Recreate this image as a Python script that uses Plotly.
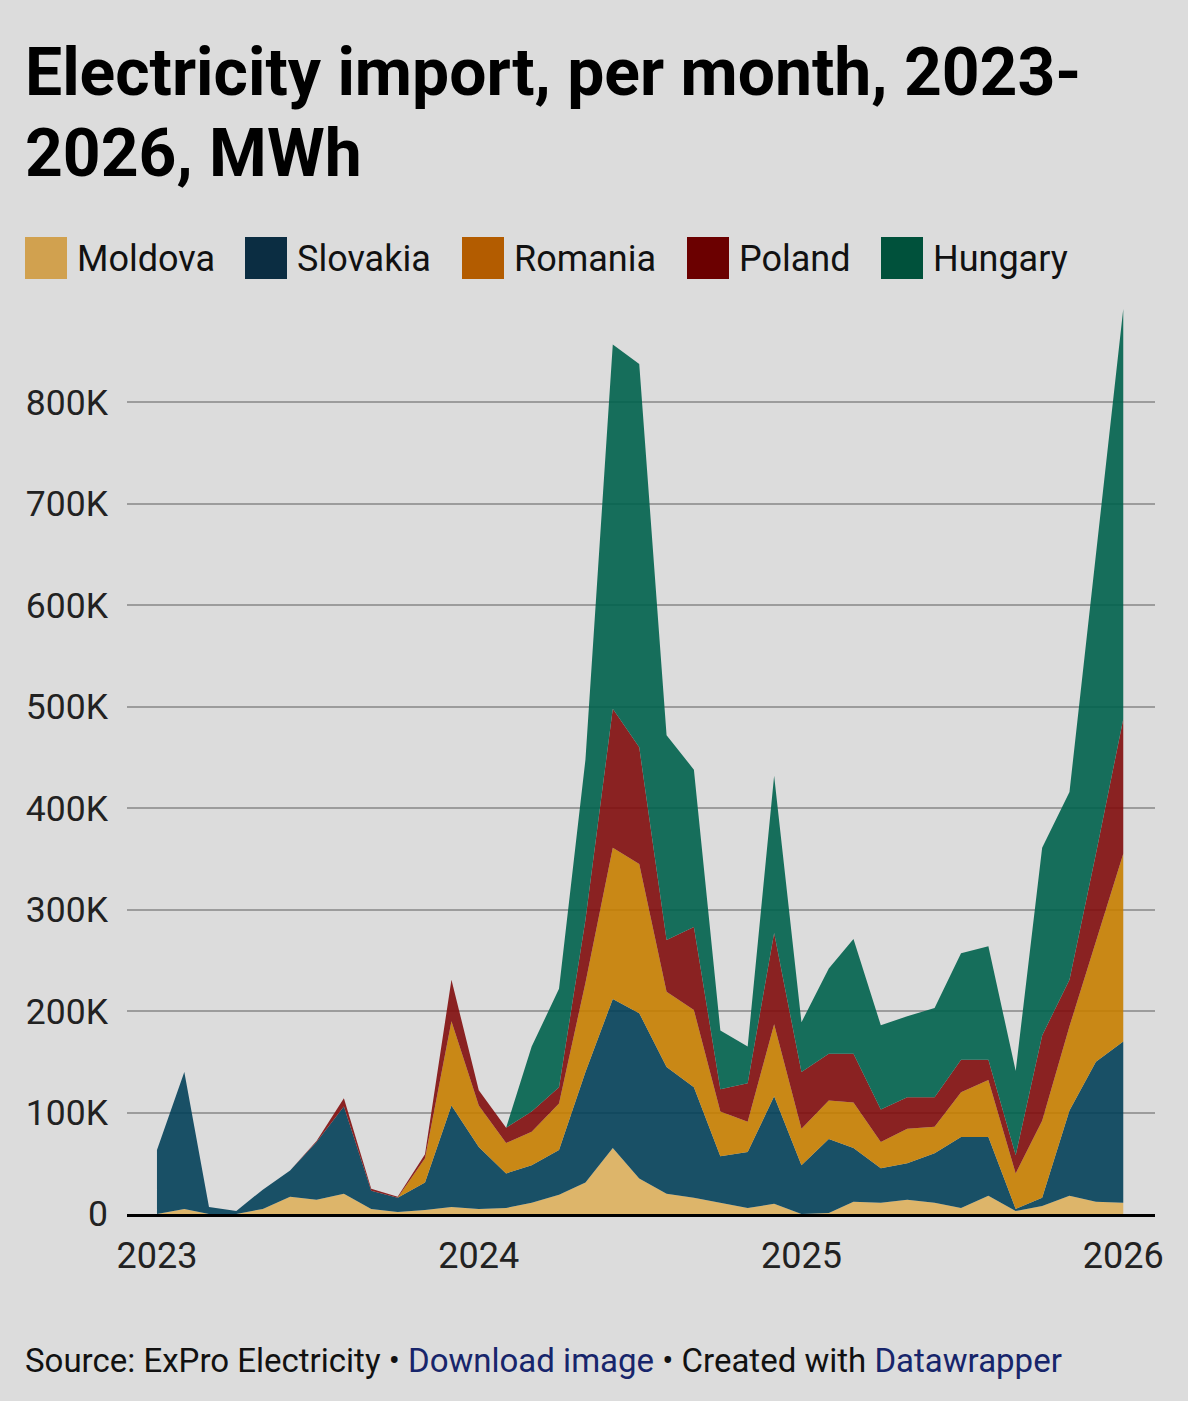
import pandas as pd
import plotly.graph_objects as go

# monthly values, thousand MWh, Jan 2023 .. Jan 2026
months = pd.date_range("2023-01-01", periods=37, freq="MS")
moldova = [0, 5, 0, 0, 5, 17, 14, 20, 5, 2, 4, 7, 5,
           6, 11, 19, 31, 65, 35, 20, 16, 11, 6, 10, 0,
           1, 12, 11, 14, 11, 6, 18, 3, 8, 18, 12, 11]
slovakia = [63, 135, 7, 3, 19, 26, 57, 86, 18, 14, 27, 100, 61,
            34, 37, 44, 109, 147, 163, 125, 109, 46, 55, 106, 48,
            73, 53, 34, 36, 49, 70, 58, 2, 8, 84, 138, 159]
romania = [0, 0, 0, 0, 0, 0, 0, 0, 0, 0, 24, 83, 41,
           30, 33, 46, 88, 149, 147, 74, 76, 44, 30, 71, 36,
           38, 45, 26, 34, 26, 44, 56, 35, 76, 83, 118, 185]
poland = [0, 0, 0, 0, 0, 0, 1, 8, 2, 1, 4, 41, 15,
          15, 20, 16, 62, 137, 115, 51, 82, 22, 38, 90, 56,
          46, 48, 32, 31, 29, 32, 20, 18, 84, 46, 87, 133]
hungary = [0, 0, 0, 0, 0, 0, 0, 0, 0, 0, 0, 0, 0,
           0, 64, 97, 158, 359, 378, 202, 155, 58, 36, 155, 49,
           84, 113, 83, 80, 88, 105, 112, 83, 185, 185, 297, 404]

names = ["Moldova", "Slovakia", "Romania", "Poland", "Hungary"]
series = [moldova, slovakia, romania, poland, hungary]
area_colors = ["rgba(221,176,93,0.9)", "rgba(3,64,89,0.9)", "rgba(198,126,0,0.9)",
               "rgba(129,13,13,0.9)", "rgba(0,98,76,0.9)"]
swatch_colors = ["#d1a14f", "#0b2d42", "#b35c00", "#6b0000", "#00513b"]

y_ticks = [0, 100, 200, 300, 400, 500, 600, 700, 800]
y_labels = ["0", "100K", "200K", "300K", "400K", "500K", "600K", "700K", "800K"]
x_ticks = ["2023-01-01", "2024-01-01", "2025-01-01", "2026-01-01"]
x_labels = ["2023", "2024", "2025", "2026"]

title_lines = ["Electricity import, per month, 2023-", "2026, MWh"]

W, H = 1188, 1401
L, R, T, B = 127, 1155, 301, 1214


def px2x(px):
    return (px - L) / (R - L)


def py2y(py):
    return (B - py) / (B - T)


fig = go.Figure()
for name, vals, col in zip(names, series, area_colors):
    fig.add_trace(go.Scatter(
        x=months, y=[v * 1000 for v in vals], name=name,
        stackgroup="one", mode="lines",
        line=dict(width=0, color=col), fillcolor=col,
        showlegend=False,
    ))

font = "Roboto, sans-serif"

fig.update_layout(
    width=W, height=H,
    paper_bgcolor="#dcdcdc", plot_bgcolor="#dcdcdc",
    margin=dict(l=L, r=W - R, t=T, b=H - B),
    font=dict(family=font, color="#222"),
    xaxis=dict(
        type="date", range=["2022-11-28", "2026-02-06"],
        tickvals=x_ticks, ticktext=x_labels,
        showgrid=False, showline=True, linecolor="#000", linewidth=3,
        ticks="", ticklabelstandoff=8,
        tickfont=dict(size=36, color="#222"),
    ),
    yaxis=dict(
        range=[0, 900000],
        tickvals=[v * 1000 for v in y_ticks], ticktext=y_labels,
        showgrid=True, gridcolor="#9c9c9c", gridwidth=2,
        zeroline=False, showline=False, ticks="",
        ticklabelstandoff=18,
        tickfont=dict(size=35.5, color="#222"),
    ),
)

# title, two lines
for line, cy in zip(title_lines, [72, 153]):
    fig.add_annotation(text=f"<b>{line}</b>", xref="paper", yref="paper",
                       x=px2x(23), y=py2y(cy), xanchor="left", yanchor="middle",
                       showarrow=False, font=dict(size=66, color="#000"))

# legend as squares + labels
leg_x = [25, 245, 462, 687, 881]
for name, col, lx in zip(names, swatch_colors, leg_x):
    fig.add_shape(type="rect", xref="paper", yref="paper",
                  x0=px2x(lx), x1=px2x(lx + 42), y0=py2y(279), y1=py2y(237),
                  fillcolor=col, line=dict(width=0))
    fig.add_annotation(text=name, xref="paper", yref="paper",
                       x=px2x(lx + 50), y=py2y(259), xanchor="left", yanchor="middle",
                       showarrow=False, font=dict(size=36, color="#111"))

link = "#17256b"
fig.add_annotation(
    text=("Source: ExPro Electricity • "
          f"<span style='color:{link}'>Download image</span> • Created with "
          f"<span style='color:{link}'>Datawrapper</span>"),
    xref="paper", yref="paper", x=px2x(23), y=py2y(1360),
    xanchor="left", yanchor="middle", showarrow=False,
    font=dict(size=33, color="#111"),
)

fig.write_html("out.html",
               config={"displayModeBar": False},
               post_script="document.body.style.margin='0';"
                           "document.body.style.background='#dcdcdc';")
